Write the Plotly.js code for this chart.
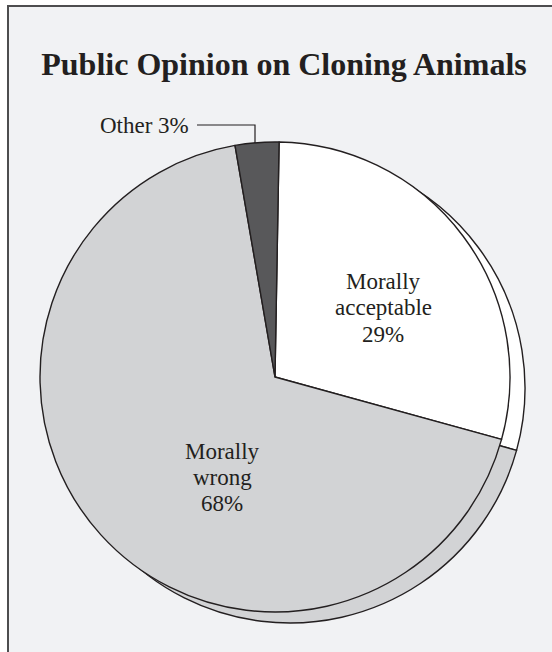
<!DOCTYPE html>
<html>
<head>
<meta charset="utf-8">
<script src="https://cdn.plot.ly/plotly-3.0.1.min.js"></script>
<style>
  html, body { margin: 0; padding: 0; background: #ffffff; }
  #chart { width: 552px; height: 652px; }
</style>
</head>
<body>
<div id="chart"></div>
<script>
// ---- data ----
const titleText = 'Public Opinion on Cloning Animals';
const labels = ['Morally acceptable', 'Morally wrong', 'Other'];
const values = [29, 68, 3];
const sliceColors = ['#ffffff', '#d2d3d5', '#58585a'];

// ---- helpers (pixel -> paper) ----
const W = 552, H = 652;
const px = x => x / W;
const py = y => 1 - y / H;

const FONT = 'Liberation Serif, Times New Roman, serif';
const INK = '#231f20';

// front pie: center (275,377), r 235 ; shadow offset (15,11)
const cx = 275, cy = 377, r = 235, dx = 15, dy = 11;

const common = {
  type: 'pie',
  labels: labels,
  values: values,
  sort: false,
  direction: 'clockwise',
  rotation: 1,
  textinfo: 'none',
  hoverinfo: 'label+percent',
  showlegend: false,
  marker: { colors: sliceColors, line: { color: INK, width: 1.4 } }
};

const shadow = Object.assign({}, common, {
  domain: { x: [px(cx + dx - r), px(cx + dx + r)], y: [py(cy + dy + r), py(cy + dy - r)] }
});
const front = Object.assign({}, common, {
  domain: { x: [px(cx - r), px(cx + r)], y: [py(cy + r), py(cy - r)] }
});

// label lines built from data
function lines(i) {
  return labels[i].split(' ').concat([values[i] + '%']);
}
const annotations = [];
function addBlock(i, x, baselines, size) {
  const ls = lines(i);
  ls.forEach((t, k) => {
    annotations.push({
      xref: 'paper', yref: 'paper', x: px(x), y: py(baselines[k] - 0.33 * size),
      xanchor: 'center', yanchor: 'middle', showarrow: false,
      text: t, font: { family: FONT, size: size, color: INK }
    });
  });
}
addBlock(0, 383, [289, 315.5, 342], 23);
addBlock(1, 222, [459, 485, 511], 23);
annotations.push({
  xref: 'paper', yref: 'paper', x: px(191), y: py(133 - 0.33 * 23),
  xanchor: 'right', yanchor: 'middle', showarrow: false,
  text: labels[2] + ' ' + values[2] + '%', font: { family: FONT, size: 23, color: INK }
});

const layout = {
  width: W, height: H,
  margin: { l: 0, r: 0, t: 0, b: 0 },
  paper_bgcolor: '#ffffff',
  title: {
    text: '<b>' + titleText + '</b>',
    font: { family: FONT, size: 32, color: INK },
    x: px(284), xanchor: 'center', y: py(64), yanchor: 'middle'
  },
  shapes: [
    { type: 'rect', xref: 'paper', yref: 'paper', layer: 'below',
      x0: px(8), x1: px(570), y0: py(680), y1: py(6),
      fillcolor: '#f1f2f4', line: { color: '#4d4d4f', width: 2 } },
    { type: 'path', xref: 'paper', yref: 'paper', layer: 'above',
      path: 'M ' + px(197) + ' ' + py(125) + ' L ' + px(255) + ' ' + py(125) + ' L ' + px(255) + ' ' + py(143),
      line: { color: INK, width: 1.2 } }
  ],
  annotations: annotations
};

Plotly.newPlot('chart', [shadow, front], layout, { displayModeBar: false, staticPlot: true });
</script>
</body>
</html>
